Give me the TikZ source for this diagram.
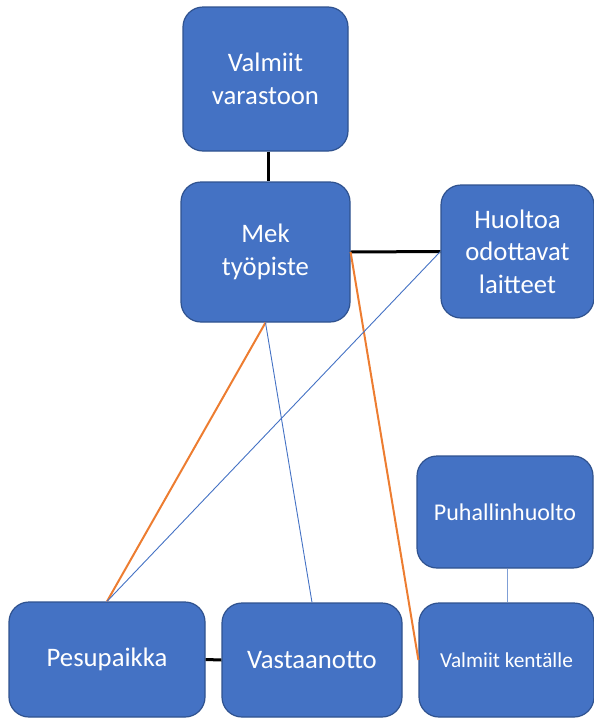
\documentclass[tikz,border=0pt]{standalone}
\usepackage{fontspec}
\setmainfont{Carlito}
\definecolor{boxfill}{HTML}{4472C4}
\definecolor{boxline}{HTML}{2F528F}
\definecolor{orangeline}{HTML}{ED7D31}
\definecolor{blueline}{HTML}{4472C4}
\definecolor{paleblue}{HTML}{7F9FD6}
\begin{document}
\begin{tikzpicture}[x=1pt,y=-1pt,
  unit/.style={draw=boxline, line width=1.2pt, fill=boxfill, rounded corners=20pt,
    text=white, align=center, inner sep=0pt,
    font=\fontsize{26.7}{32.6}\selectfont},
  link/.style={line width=3pt, black},
  olink/.style={line width=2pt, orangeline},
  blink/.style={line width=0.9pt, blueline},
  plink/.style={line width=1.4pt, paleblue}]
\useasboundingbox (0,0) rectangle (594,718);
% boxes: centre, width, height
\node[unit, minimum width=165pt, minimum height=144pt] (varasto) at (265.5,79) {Valmiit\\varastoon};
\node[unit, minimum width=169pt, minimum height=140pt] (mek) at (265.5,252) {Mek\\työpiste};
\node[unit, minimum width=153pt, minimum height=133pt] (huolto) at (517.5,251.5) {Huoltoa\\odottavat\\laitteet};
\node[unit, minimum width=176pt, minimum height=112pt, font=\fontsize{24}{29}\selectfont] (puhallin) at (505,512) {Puhallinhuolto};
\node[unit, minimum width=196pt, minimum height=115pt] (pesu) at (107,659.5) {Pesupaikka};
\node[unit, minimum width=180pt, minimum height=114pt] (vast) at (312,660) {Vastaanotto};
\node[unit, minimum width=175pt, minimum height=114pt, font=\fontsize{21.3}{26}\selectfont] (kentta) at (506.5,660) {Valmiit kentälle};
% connectors
\draw[link] ([xshift=2.5pt]varasto.south) -- ([xshift=2.5pt]varasto.south |- mek.north);
\draw[link] (mek.east) -- (huolto.west);
\draw[link] (pesu.east) -- (vast.west);
\draw[olink] (mek.south) -- (pesu.north);
\draw[olink] (mek.east) -- (kentta.west);
\draw[blink] (mek.south) -- (vast.north);
\draw[blink] (huolto.west) -- (pesu.north);
\draw[plink] ([xshift=2.5pt]puhallin.south) -- ([xshift=2.5pt]puhallin.south |- kentta.north);
\end{tikzpicture}
\end{document}
